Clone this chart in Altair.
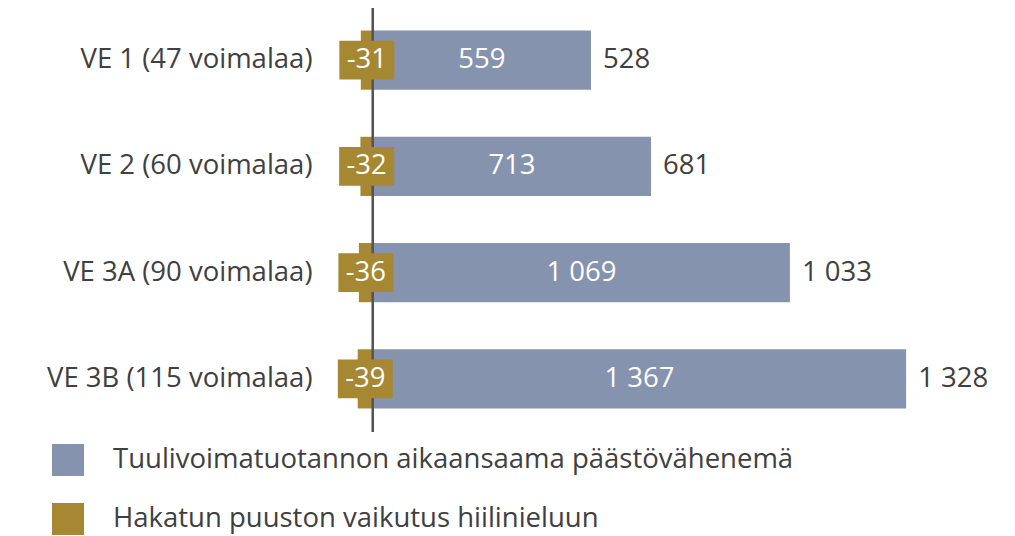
import altair as alt
import pandas as pd

categories = ["VE 1 (47 voimalaa)", "VE 2 (60 voimalaa)", "VE 3A (90 voimalaa)", "VE 3B (115 voimalaa)"]
reduction = [559, 713, 1069, 1367]
forest = [-31, -32, -36, -39]
net = [528, 681, 1033, 1328]
series = ["Tuulivoimatuotannon aikaansaama päästövähenemä", "Hakatun puuston vaikutus hiilinieluun"]

BLUE = "#8693AE"
GOLD = "#A68732"
TEXT = "#404040"
FONT = "Open Sans"
FS = 27.5
FW = 400

def fmt(v):
    s = f"{abs(v):,}".replace(",", " ")
    return ("-" if v < 0 else "") + s

rows = []
for c, r, f, n in zip(categories, reduction, forest, net):
    rows.append({"cat": c, "series": series[0], "value": r, "lab": fmt(r), "net": n, "netlab": fmt(n)})
    rows.append({"cat": c, "series": series[1], "value": f, "lab": fmt(f), "net": n, "netlab": fmt(n)})
df = pd.DataFrame(rows)

xscale = alt.Scale(domain=[-110, 1582], nice=False, zero=False)
yscale = alt.Scale(domain=categories, paddingInner=0.443, paddingOuter=0.2215)
yax = alt.Axis(title=None, domain=False, ticks=False, labelFont=FONT, labelFontSize=FS,
               labelFontWeight=FW, labelColor=TEXT, labelPadding=18, labelLimit=400)

base = alt.Chart(df)

bars = base.mark_bar(stroke=None).encode(
    x=alt.X("value:Q", scale=xscale, axis=None),
    x2=alt.datum(0),
    y=alt.Y("cat:N", scale=yscale, axis=yax, sort=categories),
    color=alt.Color("series:N", scale=alt.Scale(domain=series, range=[BLUE, GOLD]),
                    legend=alt.Legend(title=None, orient="none", legendX=-278, legendY=437,
                                      symbolType="square", symbolSize=1024, symbolStrokeWidth=0,
                                      symbolOpacity=1, rowPadding=27, labelOffset=29,
                                      labelFont=FONT, labelFontSize=FS, labelFontWeight=FW,
                                      labelColor=TEXT, labelLimit=900)),
)

rule = base.mark_rule(color="#555555", strokeWidth=2).encode(
    x=alt.X("z:Q", scale=xscale, axis=None),
).transform_calculate(z="0")

gold = base.transform_filter(alt.datum.value < 0).transform_calculate(mid="datum.value/2")

box = gold.mark_point(shape="M-1,-0.709H1V0.709H-1Z", size=3025, filled=True, opacity=1,
                      color=GOLD, strokeWidth=0).encode(
    x=alt.X("mid:Q", scale=xscale, axis=None),
    y=alt.Y("cat:N", scale=yscale, axis=yax, sort=categories),
)
goldtxt = gold.mark_text(color="white", font=FONT, fontSize=FS, fontWeight=FW, baseline="middle").encode(
    x=alt.X("mid:Q", scale=xscale, axis=None),
    y=alt.Y("cat:N", scale=yscale, axis=yax, sort=categories),
    text="lab:N",
)

blue = base.transform_filter(alt.datum.value > 0).transform_calculate(mid="datum.value/2")
bluetxt = blue.mark_text(color="white", font=FONT, fontSize=FS, fontWeight=FW, baseline="middle").encode(
    x=alt.X("mid:Q", scale=xscale, axis=None),
    y=alt.Y("cat:N", scale=yscale, axis=yax, sort=categories),
    text="lab:N",
)
nettxt = blue.mark_text(color=TEXT, font=FONT, fontSize=FS, fontWeight=FW, baseline="middle",
                        align="left", dx=12).encode(
    x=alt.X("value:Q", scale=xscale, axis=None),
    y=alt.Y("cat:N", scale=yscale, axis=yax, sort=categories),
    text="netlab:N",
)

chart = alt.layer(bars, rule, box, goldtxt, bluetxt, nettxt).properties(
    width=660, height=425,
    padding={"left": 322, "top": -1, "right": 5, "bottom": 103},
    autosize=alt.AutoSizeParams(type="none"),
).configure(background="white").configure_view(strokeWidth=0, stroke="transparent")

chart.save("out.html", embed_options={"renderer": "svg", "actions": False})
